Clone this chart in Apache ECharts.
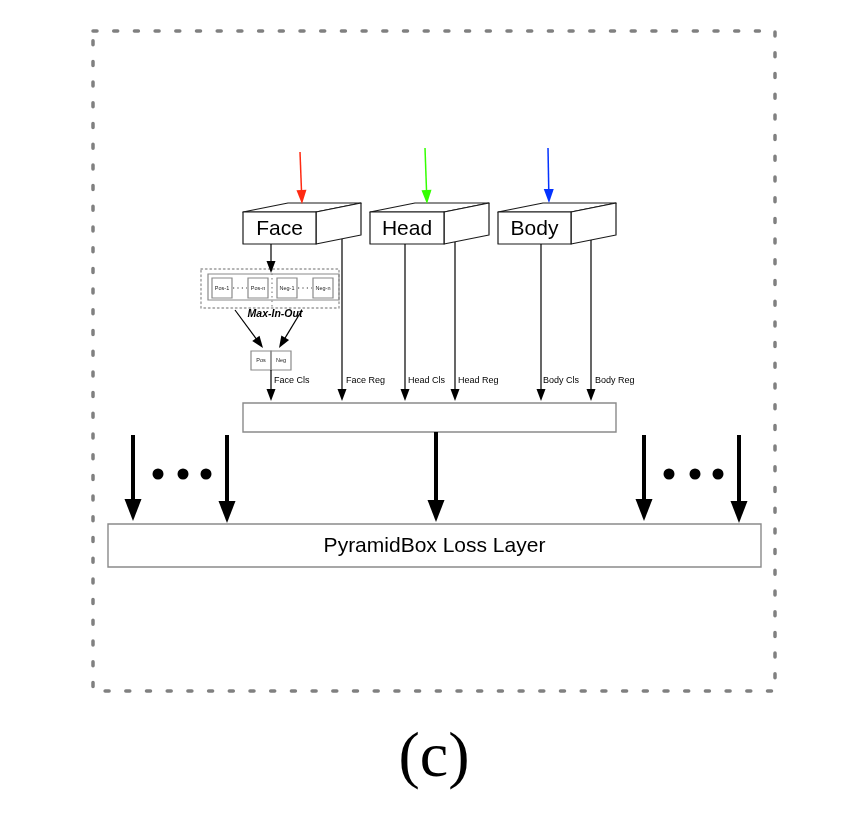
<!DOCTYPE html>
<html>
<head>
<meta charset="utf-8">
<script src="https://cdn.jsdelivr.net/npm/echarts@6/dist/echarts.min.js"></script>
<style>
html, body { margin: 0; padding: 0; background: #fff; }
#main { width: 849px; height: 813px; }
</style>
</head>
<body>
<div id="main"></div>
<script>
// Diagram geometry, in the units of the two hidden value axes (x right, y down)
var frameRects = [[93, 31, 775, 691]];
var cuboids = [
    [243, 212, 316, 244, 'Face'],
    [370, 212, 444, 244, 'Head'],
    [498, 212, 571, 244, 'Body']
];
var inputArrows = [
    [300, 152, 302, 204],
    [425, 148, 427, 204],
    [548, 148, 549, 203]
];
var inputColors = ['#ff2a12', '#33ff00', '#0433ff'];
var maxInOutRects = [[201, 269, 339, 308]];
var maxInOutSplit = [[272, 269, 272, 308]];
var anchorRects = [[208, 274, 339, 300]];
var anchorBoxes = [
    [212, 278, 232, 298, 'Pos-1'],
    [248, 278, 268, 298, 'Pos-n'],
    [277, 278, 297, 298, 'Neg-1'],
    [313, 278, 333, 298, 'Neg-n'],
    [251, 351, 271, 370, 'Pos'],
    [271, 351, 291, 370, 'Neg']
];
var anchorDots = [[233, 288, 247, 288], [298, 288, 312, 288]];
var thinArrows = [
    [271, 244, 271, 273],
    [235, 310, 263, 348],
    [302, 310, 279, 348],
    [271, 370, 271, 401],
    [342, 239, 342, 401],
    [405, 244, 405, 401],
    [455, 242, 455, 401],
    [541, 244, 541, 401],
    [591, 240, 591, 401]
];
var headLabels = [
    [274, 381, 'Face Cls'],
    [346, 381, 'Face Reg'],
    [408, 381, 'Head Cls'],
    [458, 381, 'Head Reg'],
    [543, 381, 'Body Cls'],
    [595, 381, 'Body Reg']
];
var layerRects = [
    [243, 403, 616, 432, ''],
    [108, 524, 761, 567, 'PyramidBox Loss Layer']
];
var thickArrows = [
    [133, 435, 133, 521],
    [227, 435, 227, 523],
    [436, 432, 436, 522],
    [644, 435, 644, 521],
    [739, 435, 739, 523]
];
var ellipsisDots = [[158, 474], [183, 474], [206, 474], [669, 474], [695, 474], [718, 474]];
var captions = [[275, 314, 'Max-In-Out'], [434, 759, '(c)']];

var SANS = '"Liberation Sans", Arial, Helvetica, sans-serif';

function nums(rows) {
    return rows.map(function (r) { return [r[0], r[1], r[2], r[3]]; });
}

function arrowShape(api, d, lineW, headL, headW, color) {
    var p1 = api.coord([d[0], d[1]]);
    var p2 = api.coord([d[2], d[3]]);
    var dx = p2[0] - p1[0], dy = p2[1] - p1[1];
    var len = Math.sqrt(dx * dx + dy * dy);
    var ux = dx / len, uy = dy / len;
    var bx = p2[0] - ux * headL, by = p2[1] - uy * headL;
    return {
        type: 'group',
        children: [{
            type: 'line',
            shape: {x1: p1[0], y1: p1[1], x2: bx + ux, y2: by + uy},
            style: {stroke: color, lineWidth: lineW}
        }, {
            type: 'polygon',
            shape: {points: [
                [p2[0], p2[1]],
                [bx - uy * headW / 2, by + ux * headW / 2],
                [bx + uy * headW / 2, by - ux * headW / 2]
            ]},
            style: {fill: color}
        }]
    };
}

function rectShape(api, d, stroke, lineW, dash) {
    var a = api.coord([d[0], d[1]]);
    var b = api.coord([d[2], d[3]]);
    return {
        type: 'rect',
        shape: {x: a[0], y: a[1], width: b[0] - a[0], height: b[1] - a[1]},
        style: {fill: 'none', stroke: stroke, lineWidth: lineW, lineDash: dash || null, lineCap: dash ? 'round' : 'butt'}
    };
}

var option = {
    animation: false,
    backgroundColor: '#fff',
    grid: {left: 0, right: 0, top: 0, bottom: 0},
    xAxis: {type: 'value', min: 0, max: 849, show: false},
    yAxis: {type: 'value', min: 0, max: 813, inverse: true, show: false},
    series: [
        {
            // outer dashed frame
            type: 'custom',
            data: nums(frameRects),
            renderItem: function (params, api) {
                return rectShape(api, frameRects[params.dataIndex], '#808080', 3.5, [4, 16.7]);
            }
        },
        {
            // Face / Head / Body boxes
            type: 'custom',
            data: nums(cuboids),
            renderItem: function (params, api) {
                var d = cuboids[params.dataIndex];
                var tl = api.coord([d[0], d[1]]);
                var br = api.coord([d[2], d[3]]);
                var ox = 45, oy = -9;
                var st = {fill: '#fff', stroke: '#1a1a1a', lineWidth: 1.2, lineJoin: 'round'};
                return {
                    type: 'group',
                    children: [{
                        type: 'polygon',
                        shape: {points: [[tl[0], tl[1]], [tl[0] + ox, tl[1] + oy], [br[0] + ox, tl[1] + oy], [br[0], tl[1]]]},
                        style: st
                    }, {
                        type: 'polygon',
                        shape: {points: [[br[0], tl[1]], [br[0] + ox, tl[1] + oy], [br[0] + ox, br[1] + oy], [br[0], br[1]]]},
                        style: st
                    }, {
                        type: 'rect',
                        shape: {x: tl[0], y: tl[1], width: br[0] - tl[0], height: br[1] - tl[1]},
                        style: st
                    }, {
                        type: 'text',
                        style: {
                            text: d[4], x: (tl[0] + br[0]) / 2, y: (tl[1] + br[1]) / 2 + 1,
                            align: 'center', verticalAlign: 'middle',
                            font: '21px ' + SANS, fill: '#000'
                        }
                    }]
                };
            }
        },
        {
            // coloured input arrows
            type: 'custom',
            data: nums(inputArrows),
            renderItem: function (params, api) {
                return arrowShape(api, inputArrows[params.dataIndex], 1.5, 14, 10, inputColors[params.dataIndex]);
            }
        },
        {
            // Max-In-Out dashed group
            type: 'custom',
            data: nums(maxInOutRects),
            renderItem: function (params, api) {
                var s = maxInOutSplit[params.dataIndex];
                var a = api.coord([s[0], s[1]]);
                var b = api.coord([s[2], s[3]]);
                return {
                    type: 'group',
                    children: [
                        rectShape(api, maxInOutRects[params.dataIndex], '#9a9a9a', 1.4, [1.5, 3]),
                        {
                            type: 'line',
                            shape: {x1: a[0], y1: a[1], x2: b[0], y2: b[1]},
                            style: {stroke: '#9a9a9a', lineWidth: 1.4, lineDash: [1.5, 3]}
                        }
                    ]
                };
            }
        },
        {
            type: 'custom',
            data: nums(anchorRects),
            renderItem: function (params, api) {
                return rectShape(api, anchorRects[params.dataIndex], '#8a8a8a', 1.2);
            }
        },
        {
            // small anchor boxes
            type: 'custom',
            data: nums(anchorBoxes),
            renderItem: function (params, api) {
                var d = anchorBoxes[params.dataIndex];
                var a = api.coord([d[0], d[1]]);
                var b = api.coord([d[2], d[3]]);
                return {
                    type: 'group',
                    children: [
                        rectShape(api, d, '#8a8a8a', 1.2),
                        {
                            type: 'text',
                            style: {
                                text: d[4], x: (a[0] + b[0]) / 2, y: (a[1] + b[1]) / 2,
                                align: 'center', verticalAlign: 'middle',
                                font: '5.5px ' + SANS, fill: '#222'
                            }
                        }
                    ]
                };
            }
        },
        {
            // dotted ellipsis between anchor boxes
            type: 'custom',
            data: nums(anchorDots),
            renderItem: function (params, api) {
                var d = anchorDots[params.dataIndex];
                var a = api.coord([d[0], d[1]]);
                var b = api.coord([d[2], d[3]]);
                return {
                    type: 'line',
                    shape: {x1: a[0], y1: a[1], x2: b[0], y2: b[1]},
                    style: {stroke: '#333', lineWidth: 1.2, lineDash: [1.2, 3.2]}
                };
            }
        },
        {
            // middle layer and loss layer
            type: 'custom',
            data: nums(layerRects),
            renderItem: function (params, api) {
                var d = layerRects[params.dataIndex];
                var a = api.coord([d[0], d[1]]);
                var b = api.coord([d[2], d[3]]);
                return {
                    type: 'group',
                    children: [
                        rectShape(api, d, '#8a8a8a', 1.4),
                        {
                            type: 'text',
                            style: {
                                text: d[4], x: (a[0] + b[0]) / 2, y: (a[1] + b[1]) / 2 + 1,
                                align: 'center', verticalAlign: 'middle',
                                font: '21px ' + SANS, fill: '#000'
                            }
                        }
                    ]
                };
            }
        },
        {
            type: 'custom',
            data: nums(thinArrows),
            renderItem: function (params, api) {
                return arrowShape(api, thinArrows[params.dataIndex], 1.2, 12, 9, '#000');
            }
        },
        {
            type: 'custom',
            data: headLabels.map(function (r) { return [r[0], r[1]]; }),
            renderItem: function (params, api) {
                var d = headLabels[params.dataIndex];
                var p = api.coord([d[0], d[1]]);
                return {
                    type: 'text',
                    style: {text: d[2], x: p[0], y: p[1], align: 'left', verticalAlign: 'middle',
                        font: '9px ' + SANS, fill: '#000'}
                };
            }
        },
        {
            type: 'custom',
            data: nums(thickArrows),
            renderItem: function (params, api) {
                return arrowShape(api, thickArrows[params.dataIndex], 4, 22, 17, '#000');
            }
        },
        {
            type: 'scatter',
            data: ellipsisDots,
            symbol: 'circle',
            symbolSize: 11,
            itemStyle: {color: '#000', opacity: 1},
            silent: true
        },
        {
            type: 'custom',
            data: captions.map(function (r) { return [r[0], r[1]]; }),
            renderItem: function (params, api) {
                var d = captions[params.dataIndex];
                var p = api.coord([d[0], d[1]]);
                var big = params.dataIndex === 1;
                return {
                    type: 'text',
                    style: {
                        text: d[2], x: p[0], y: p[1],
                        align: 'center', verticalAlign: 'middle',
                        font: big ? '64px "Liberation Serif", "Times New Roman", serif'
                                  : 'italic bold 10.5px ' + SANS,
                        fill: '#000'
                    }
                };
            }
        }
    ]
};

var myChart = echarts.init(document.getElementById('main'));
myChart.setOption(option);
</script>
</body>
</html>
